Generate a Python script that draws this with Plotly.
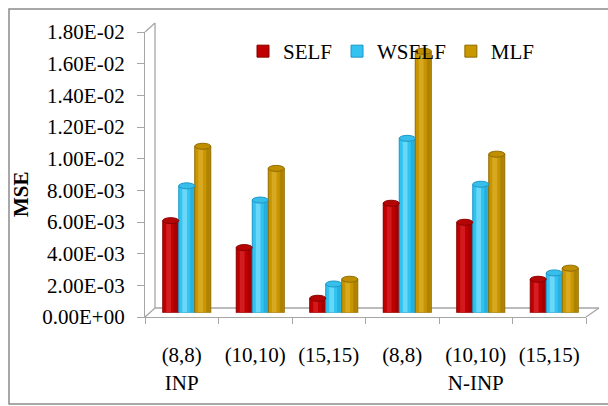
import plotly.graph_objects as go

# ---- data -------------------------------------------------------------
categories = ["(8,8)<br>INP", "(10,10)", "(15,15)", "(8,8)", "(10,10)<br>N-INP", "(15,15)"]
series_names = ["SELF", "WSELF", "MLF"]
self_mse = [0.0058, 0.0041, 0.0009, 0.0069, 0.0057, 0.0021]
wself_mse = [0.0080, 0.0071, 0.0018, 0.0110, 0.0081, 0.0025]
mlf_mse = [0.0105, 0.0091, 0.0021, 0.0165, 0.0100, 0.0028]
y_ticks = [0.002 * k for k in range(10)]

# ---- styling ----------------------------------------------------------
FONT = "Liberation Serif"
FS = 21
GRID = "#A6A6A6"
palette = {
    "SELF": dict(base="#C00000", light="#D8262A", dark="#8A0000", cap="#B50606"),
    "WSELF": dict(base="#33C3F0", light="#7ADCFA", dark="#1C98C8", cap="#38BEEA"),
    "MLF": dict(base="#C99700", light="#DDAE2A", dark="#8F6A00", cap="#C08F00"),
}

# plot-area pixel frame (front plane of the 3-D box)
W, H = 608, 406
L, R, T, B = 145, 8, 22, 89
PW, PH = W - L - R, H - T - B           # 455 x 295
DX, DY = 10, 9                          # depth offset of the back wall (px)
FRONT_W, FRONT_H = 441, 285             # front plane size (px)


def px(x):  # pixel x -> paper fraction
    return (x - L) / PW


def py(y):  # pixel y -> paper fraction
    return (H - B - y) / PH


n = len(categories)
bar_w = 16 / (FRONT_W / n)              # single bar width in category units
group_w = 3 * bar_w
cap_r = 3 * (y_ticks[-1] / FRONT_H)     # half-height of the cylinder caps

fig = go.Figure()
shapes = []
xs = list(range(n))
all_series = [self_mse, wself_mse, mlf_mse]
for k, (name, vals) in enumerate(zip(series_names, all_series)):
    c = palette[name]
    off = -group_w / 2 + k * bar_w
    # cylinder body
    fig.add_trace(go.Bar(
        x=xs, y=vals, name=name, width=bar_w, offset=off,
        marker=dict(color=c["base"], line=dict(color=c["dark"], width=1)),
        xaxis="x2", yaxis="y2", legendrank=k,
    ))
    # highlight stripe
    fig.add_trace(go.Bar(
        x=xs, y=vals, width=bar_w * 0.3, offset=off + bar_w * 0.22,
        marker=dict(color=c["light"], line=dict(width=0)), opacity=0.8,
        xaxis="x2", yaxis="y2", showlegend=False, hoverinfo="skip",
    ))
    # shadow stripe on the right side
    fig.add_trace(go.Bar(
        x=xs, y=vals, width=bar_w * 0.22, offset=off + bar_w * 0.72,
        marker=dict(color=c["dark"], line=dict(width=0)), opacity=0.45,
        xaxis="x2", yaxis="y2", showlegend=False, hoverinfo="skip",
    ))
    for i, v in zip(xs, vals):
        x0, x1 = i + off, i + off + bar_w
        # rounded bottom
        shapes.append(dict(type="circle", xref="x2", yref="y2", layer="below",
                           x0=x0, x1=x1, y0=-cap_r, y1=cap_r,
                           fillcolor=c["base"], line=dict(color=c["dark"], width=1)))
        # top cap
        shapes.append(dict(type="circle", xref="x2", yref="y2",
                           x0=x0, x1=x1, y0=v - cap_r, y1=v + cap_r,
                           fillcolor=c["cap"], line=dict(color=c["dark"], width=1)))

# transparent carriers so the front-plane axes get drawn
for ax in ["x", "x4"]:
    fig.add_trace(go.Scatter(x=xs, y=mlf_mse, mode="markers", marker=dict(opacity=0),
                             xaxis=ax, yaxis="y", showlegend=False, hoverinfo="skip"))

# 3-D box edges: back wall and floor
box_lines = [
    ((L, H - B - FRONT_H), (L + DX, H - B - FRONT_H - DY)),
    ((L + DX, H - B - FRONT_H - DY), (L + DX, H - B - DY)),
    ((L, H - B), (L + DX, H - B - DY)),
    ((L + DX, H - B - DY), (L + FRONT_W + DX + 3, H - B - DY)),
    ((L + FRONT_W, H - B), (L + FRONT_W + DX + 3, H - B - DY)),
]
for (ax_, ay), (bx, by) in box_lines:
    shapes.append(dict(type="line", xref="paper", yref="paper", layer="below",
                       x0=px(ax_), y0=py(ay), x1=px(bx), y1=py(by),
                       line=dict(color=GRID, width=1.3)))

# outer chart border
shapes.append(dict(type="rect", xref="paper", yref="paper", layer="below",
                   x0=px(9), y0=py(404), x1=px(640), y1=py(9),
                   line=dict(color="#8C8C8C", width=1.5)))

tick_font = dict(family=FONT, size=FS, color="black")
fig.update_layout(
    width=W, height=H,
    margin=dict(l=L, r=R, t=T, b=B),
    paper_bgcolor="white", plot_bgcolor="rgba(0,0,0,0)",
    barmode="overlay",
    showlegend=True,
    legend=dict(orientation="h", x=px(243), y=py(31), xanchor="left", yanchor="top",
                font=dict(family=FONT, size=FS, color="black"),
                bgcolor="rgba(0,0,0,0)", traceorder="normal"),
    shapes=shapes,
    annotations=[dict(text="<b>MSE</b>", textangle=-90, xref="paper", yref="paper",
                      x=px(21), y=py(194), xanchor="center", yanchor="middle",
                      showarrow=False, font=dict(family=FONT, size=FS, color="black"))],
    # front plane: category boundaries with tick marks
    xaxis=dict(domain=[0, FRONT_W / PW], range=[-0.5, n - 0.5],
               tickvals=[i - 0.5 for i in range(n + 1)], ticktext=[""] * (n + 1),
               ticks="outside", ticklen=6, tickcolor=GRID, showline=True,
               linecolor=GRID, linewidth=1.3, showgrid=False, zeroline=False,
               anchor="y"),
    # category labels
    xaxis4=dict(overlaying="x", range=[-0.5, n - 0.5], tickvals=xs, ticktext=categories,
                ticks="outside", ticklen=19, tickcolor="rgba(0,0,0,0)",
                tickfont=tick_font, showline=False, showgrid=False, zeroline=False,
                anchor="y", side="bottom"),
    yaxis=dict(domain=[0, FRONT_H / PH], range=[0, y_ticks[-1]],
               tickvals=y_ticks, ticktext=[f"{v:.2E}" for v in y_ticks],
               tickfont=tick_font, ticks="outside", ticklen=7, tickcolor=GRID,
               showline=True, linecolor=GRID, linewidth=1.3, showgrid=False,
               zeroline=False, anchor="x", ticklabelstandoff=8),
    # mid-depth plane where the cylinders stand
    xaxis2=dict(domain=[(DX / 2) / PW, (FRONT_W + DX / 2) / PW], range=[-0.5, n - 0.5],
                visible=False, anchor="y2"),
    yaxis2=dict(domain=[(DY / 2) / PH, (FRONT_H + DY / 2) / PH], range=[0, y_ticks[-1]],
                visible=False, anchor="x2"),
)

fig.write_html("out.html")
